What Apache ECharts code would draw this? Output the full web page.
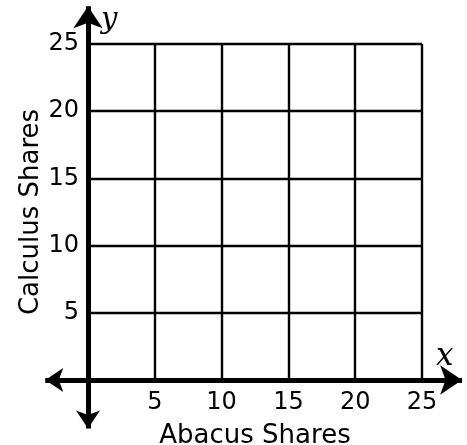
<!DOCTYPE html>
<html><head><meta charset="utf-8">
<script src="https://cdn.jsdelivr.net/npm/echarts@6/dist/echarts.min.js"></script>
<style>html,body{margin:0;padding:0;background:#fff}#c{width:467px;height:445px}</style>
</head><body><div id="c"></div>
<script>
const xTicks = [0, 5, 10, 15, 20, 25];
const yTicks = [0, 5, 10, 15, 20, 25];
const xAxisTitle = 'Abacus Shares';
const yAxisTitle = 'Calculus Shares';
const xArrowSpan = [-3.2, 28.0];
const yArrowSpan = [-3.6, 27.8];

const FONT = 'DejaVu Sans';
const chart = echarts.init(document.getElementById('c'));
chart.setOption({
  animation: false,
  backgroundColor: '#fff',
  grid: { left: 88, right: 45, top: 44, bottom: 65, containLabel: false, outerBoundsMode: 'none' },
  xAxis: {
    type: 'value', min: xTicks[0], max: xTicks[xTicks.length - 1], interval: 5,
    axisLine: { show: false }, axisTick: { show: false },
    splitLine: { show: true, lineStyle: { color: '#000', width: 2.4 } },
    axisLabel: { color: '#000', fontFamily: FONT, fontSize: 24, margin: 11,
      formatter: v => (v === 0 ? '' : String(v)) },
    name: xAxisTitle, nameLocation: 'middle', nameGap: 43, nameMoveOverlap: false,
    nameTextStyle: { color: '#000', fontFamily: FONT, fontSize: 26 }
  },
  yAxis: {
    type: 'value', min: yTicks[0], max: yTicks[yTicks.length - 1], interval: 5,
    axisLine: { show: false }, axisTick: { show: false },
    splitLine: { show: true, lineStyle: { color: '#000', width: 2.4 } },
    axisLabel: { color: '#000', fontFamily: FONT, fontSize: 24, margin: 9,
      formatter: v => (v === 0 ? '' : String(v)) },
    name: yAxisTitle, nameLocation: 'middle', nameGap: 44, nameMoveOverlap: false,
    nameTextStyle: { color: '#000', fontFamily: FONT, fontSize: 26 }
  },
  graphic: [
    { type: 'text', left: 436, top: 341, style: { text: 'x', fill: '#000', font: 'italic 31px "DejaVu Serif"' } },
    { type: 'text', left: 101, top: 6, style: { text: 'y', fill: '#000', font: 'italic 29px "DejaVu Serif"' } }
  ],
  series: [{
    type: 'lines', coordinateSystem: 'cartesian2d', clip: false, silent: true,
    symbol: ['arrow', 'arrow'], symbolSize: [18, 22],
    lineStyle: { color: '#000', width: 5, opacity: 1 },
    data: [
      { coords: [[xArrowSpan[0], 0], [xArrowSpan[1], 0]] },
      { coords: [[0, yArrowSpan[0]], [0, yArrowSpan[1]]] }
    ]
  }]
});
</script></body></html>
